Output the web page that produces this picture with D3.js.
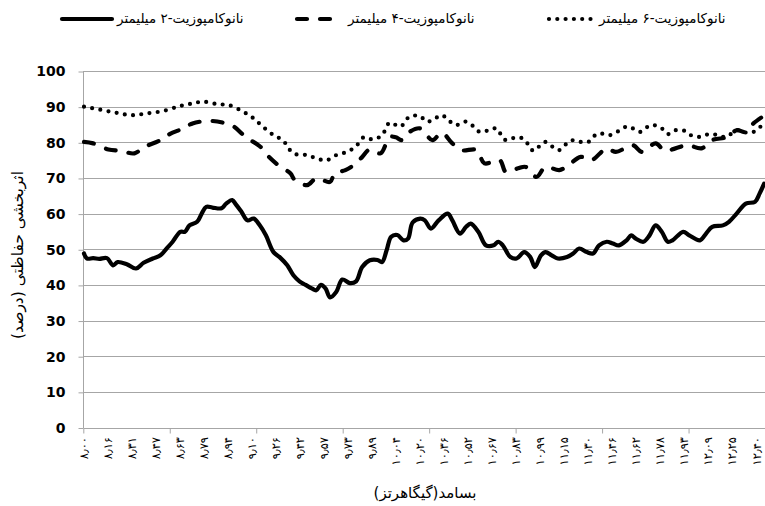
<!DOCTYPE html>
<html>
<head>
<meta charset="utf-8">
<script src="https://cdn.jsdelivr.net/npm/d3@7/dist/d3.min.js"></script>
<style>
  body { margin: 0; background: #fff; }
  svg { display: block; }
</style>
</head>
<body>
<svg id="chart" width="765" height="506"></svg>
<script>
// series names (legend)
const seriesNames = ["نانوکامپوزیت-۲ میلیمتر", "نانوکامپوزیت-۴ میلیمتر", "نانوکامپوزیت-۶ میلیمتر"]

// x tick labels (GHz, persian digits), one every 10 samples
const tickLabels = ["۸٫۰۰","۸٫۱۶","۸٫۳۱","۸٫۴۷","۸٫۶۳","۸٫۷۹","۸٫۹۴","۹٫۱۰","۹٫۲۶","۹٫۴۲","۹٫۵۷","۹٫۷۳","۹٫۸۹",
  "۱۰٫۰۴","۱۰٫۲۰","۱۰٫۳۶","۱۰٫۵۲","۱۰٫۶۷","۱۰٫۸۳","۱۰٫۹۹","۱۱٫۱۵","۱۱٫۳۰","۱۱٫۴۶","۱۱٫۶۲","۱۱٫۷۸","۱۱٫۹۳",
  "۱۲٫۰۹","۱۲٫۲۵","۱۲٫۴۰"]
const yTicks = [0, 10, 20, 30, 40, 50, 60, 70, 80, 90, 100]

// 2 mm
const freq2 = [8.00,8.02,8.06,8.10,8.15,8.19,8.22,8.28,8.34,8.39,8.45,8.50,8.54,8.58,8.63,8.66,8.69,8.74,8.77,8.80,
  8.84,8.90,8.93,8.97,8.99,9.03,9.07,9.11,9.15,9.19,9.24,9.28,9.33,9.37,9.41,9.45,9.49,9.52,9.55,9.58,
  9.61,9.65,9.69,9.74,9.78,9.82,9.87,9.92,9.95,9.98,10.01,10.05,10.09,10.12,10.15,10.20,10.23,10.27,10.32,10.38,
  10.41,10.46,10.50,10.53,10.58,10.63,10.68,10.71,10.74,10.79,10.83,10.88,10.92,10.95,10.99,11.02,11.06,11.10,11.16,11.20,
  11.24,11.29,11.33,11.37,11.42,11.46,11.50,11.55,11.58,11.61,11.66,11.70,11.74,11.78,11.82,11.85,11.92,11.96,12.03,12.07,
  12.11,12.18,12.22,12.27,12.33,12.39,12.42,12.45]
const val2 = [48.8,47.4,47.5,47.3,47.5,45.5,46.4,45.8,44.6,46.2,47.4,48.3,50.2,52.1,54.9,54.9,56.7,57.7,60.0,61.9,
  61.7,61.5,62.8,63.8,62.8,60.5,58.1,58.6,56.7,53.9,49.2,47.8,45.5,42.7,41.0,40.0,39.0,38.5,40.0,39.0,
  36.5,38.0,41.5,40.5,41.0,45.0,46.9,47.0,46.4,49.7,53.5,54.0,52.5,53.0,57.5,58.6,58.1,55.8,58.1,60.0,
  58.1,54.4,56.3,57.2,54.9,51.1,51.1,52.1,51.1,47.8,47.4,49.2,47.8,45.0,48.3,49.2,48.3,47.4,47.8,48.8,
  50.2,49.2,48.8,51.1,52.1,51.6,51.1,52.5,53.9,53.0,52.1,53.9,56.7,54.9,52.1,52.5,54.9,53.9,52.5,54.4,
  56.3,56.7,57.7,60.0,62.8,63.3,65.6,68.4]

// 4 mm
const freq4 = [8.00,8.06,8.16,8.24,8.33,8.39,8.50,8.56,8.65,8.71,8.82,8.91,8.98,9.06,9.15,9.21,9.28,9.35,9.38,9.46,
  9.52,9.61,9.64,9.71,9.78,9.82,9.87,9.94,10.00,10.04,10.08,10.13,10.20,10.28,10.34,10.41,10.47,10.57,10.62,10.72,
  10.76,10.84,10.89,10.96,11.02,11.11,11.17,11.25,11.32,11.42,11.48,11.59,11.65,11.74,11.80,11.87,11.95,12.04,12.11,12.21,
  12.27,12.33,12.38,12.44]
const val4 = [80.1,79.7,78.0,77.6,76.9,78.6,80.6,82.3,83.9,85.3,86.0,85.5,84.4,81.4,78.9,75.9,73.3,71.3,69.4,68.0,
  69.9,68.9,71.3,72.2,74.1,75.9,78.0,76.9,81.5,81.4,80.6,82.9,83.9,80.6,82.7,79.7,77.8,77.8,74.1,75.0,
  71.7,72.7,73.1,70.3,73.1,72.2,73.6,75.9,75.0,78.3,77.3,79.2,77.3,79.7,77.6,78.3,79.2,78.3,80.6,81.5,
  83.4,82.9,85.3,87.2]

// 6 mm
const freq6 = [8.00,8.10,8.21,8.31,8.41,8.52,8.63,8.71,8.78,8.87,8.95,9.04,9.11,9.17,9.24,9.30,9.37,9.46,9.54,9.59,
  9.65,9.72,9.78,9.83,9.89,9.95,10.00,10.07,10.13,10.20,10.24,10.28,10.34,10.38,10.43,10.50,10.55,10.59,10.65,10.70,
  10.73,10.76,10.82,10.87,10.91,10.94,10.98,11.02,11.07,11.11,11.16,11.20,11.25,11.30,11.33,11.37,11.44,11.50,11.55,11.59,
  11.64,11.69,11.73,11.78,11.82,11.87,11.93,11.97,12.03,12.09,12.15,12.20,12.27,12.31,12.37,12.41,12.44]
const val6 = [90.0,89.2,88.3,87.6,88.1,88.8,90.2,90.9,91.4,90.7,90.4,88.6,86.7,84.4,82.0,80.6,76.9,76.4,75.2,75.0,
  76.4,77.3,78.9,81.4,80.8,82.0,85.5,84.4,87.2,87.3,85.8,86.2,87.6,86.4,84.8,85.8,84.4,82.9,83.4,83.9,
  82.0,80.6,81.3,81.1,79.2,77.6,78.9,80.1,78.6,77.8,79.7,80.6,80.1,80.1,81.5,82.5,82.0,83.2,84.4,83.9,
  82.9,84.4,84.8,83.9,82.3,83.4,83.2,82.0,81.5,82.3,82.0,81.5,83.4,82.9,82.7,83.9,84.8]

const persianFont = "'DejaVu Sans', sans-serif"
const gridColor = "#a6a6a6"

const svg = d3.select("#chart")
const W = 765
const left = 83

// x: 281 categories, labels every 10, tick marks every 36
const x = d3.scaleLinear().domain([8, 12.4]).range([84, 756.5])
const catStep = 4.4 / 280
const y = d3.scaleLinear().domain([0, 100]).range([427.5, 71])

// grid
svg.append("g").selectAll("line")
  .data(yTicks.filter(d => d > 0))
  .enter().append("line")
  .attr("x1", left).attr("x2", W)
  .attr("y1", d => Math.round(y(d)) + 0.5).attr("y2", d => Math.round(y(d)) + 0.5)
  .attr("stroke", gridColor)

// y axis
const yAxis = d3.axisLeft(y).tickValues(yTicks).tickSize(5).tickPadding(13)
const gy = svg.append("g")
  .attr("transform", `translate(${left + 0.5},0.5)`)
  .call(yAxis)
gy.select(".domain").attr("stroke", gridColor).attr("d", `M0,${y(100)}V${y(0)}`)
gy.selectAll(".tick line").attr("stroke", gridColor)
gy.selectAll(".tick text")
  .attr("font-family", "'DejaVu Sans', sans-serif")
  .attr("font-weight", "bold")
  .attr("font-size", 14)
  .attr("fill", "#000")

// x axis line + tick marks
const tickPos = d3.range(0, 9).map(k => 8 - catStep / 2 + k * 36 * catStep).filter(f => x(f) <= W)
const xAxis = d3.axisBottom(x).tickValues(tickPos).tickSize(5).tickFormat("")
const gx = svg.append("g")
  .attr("transform", `translate(0.5,${Math.round(y(0)) + 0.5})`)
  .call(xAxis)
gx.select(".domain").attr("stroke", gridColor).attr("d", `M${left},0H${W}`)
gx.selectAll(".tick line").attr("stroke", gridColor)

// x tick labels, rotated
svg.append("g").selectAll("text")
  .data(tickLabels)
  .enter().append("text")
  .attr("transform", (d, i) => `translate(${x(8 + i * 10 * catStep) + 4},437) rotate(-90)`)
  .attr("text-anchor", "end")
  .attr("font-family", persianFont)
  .attr("font-size", 11.5)
  .text(d => d)

// lines
const series = [
  { name: seriesNames[0], pts: d3.zip(freq2, val2), dash: null },
  { name: seriesNames[1], pts: d3.zip(freq4, val4), dash: "10,13" },
  { name: seriesNames[2], pts: d3.zip(freq6, val6), dash: "0,8.3" }
]

const line = d3.line()
  .x(d => x(d[0]))
  .y(d => y(d[1]))
  .curve(d3.curveCatmullRom)

svg.append("g").selectAll("path")
  .data(series)
  .enter().append("path")
  .attr("d", d => line(d.pts))
  .attr("fill", "none")
  .attr("stroke", "#000")
  .attr("stroke-width", 4.2)
  .attr("stroke-linecap", "round")
  .attr("stroke-linejoin", "round")
  .attr("stroke-dasharray", d => d.dash)

// legend (rtl order, key on the left of its label)
const legendItems = [
  { s: series[0], x1: 62, x2: 112 },
  { s: series[1], x1: 297, x2: 343 },
  { s: series[2], x1: 549, x2: 594 }
]
const lg = svg.append("g")
legendItems.forEach(it => {
  lg.append("line")
    .attr("x1", it.x1).attr("x2", it.x2)
    .attr("y1", 19).attr("y2", 19)
    .attr("stroke", "#000")
    .attr("stroke-width", 4.2)
    .attr("stroke-linecap", "round")
    .attr("stroke-dasharray", it.s.dash)
  lg.append("text")
    .attr("x", it.x2 + 5)
    .attr("y", 23)
    .attr("direction", "rtl")
    .attr("text-anchor", "end")
    .attr("font-family", persianFont)
    .attr("font-size", 13.5)
    .text(it.s.name)
})

// axis titles
svg.append("text")
  .attr("transform", "translate(23,255) rotate(-90)")
  .attr("direction", "rtl")
  .attr("text-anchor", "middle")
  .attr("font-family", persianFont)
  .attr("font-size", 15.5)
  .text("اثربخشی حفاظتی (درصد)")

svg.append("text")
  .attr("x", 425)
  .attr("y", 498)
  .attr("direction", "rtl")
  .attr("text-anchor", "middle")
  .attr("font-family", persianFont)
  .attr("font-size", 15)
  .text("بسامد(گیگاهرتز)")
</script>
</body>
</html>
